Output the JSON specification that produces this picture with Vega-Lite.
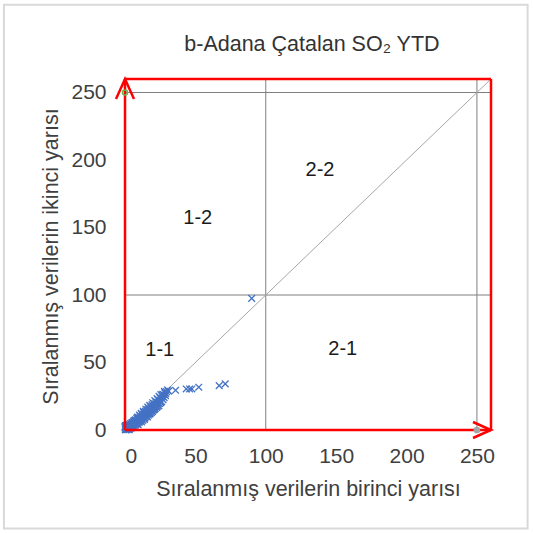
{
  "$schema": "https://vega.github.io/schema/vega-lite/v6.json",
  "width": 366,
  "height": 351,
  "autosize": {"type": "none"},
  "padding": {"left": 125, "top": 79, "right": 42, "bottom": 103},
  "background": "white",
  "config": {
    "view": {"stroke": null},
    "font": "Liberation Sans",
    "axis": {"labelFont": "Liberation Sans", "titleFont": "Liberation Sans"}
  },
  "datasets": {
    "points": [
      {"x": 0.2, "y": 0.5}, {"x": 0.5, "y": 0.1}, {"x": 0.8, "y": 1.3}, {"x": 1.1, "y": 0.6}, {"x": 1.4, "y": 2.1},
      {"x": 1.6, "y": 1.0}, {"x": 1.9, "y": 1.7}, {"x": 2.2, "y": 0.9}, {"x": 2.5, "y": 2.4}, {"x": 2.8, "y": 1.6},
      {"x": 3.0, "y": 3.1}, {"x": 3.3, "y": 2.2}, {"x": 3.6, "y": 2.9}, {"x": 3.9, "y": 1.8}, {"x": 4.1, "y": 3.6},
      {"x": 4.4, "y": 2.7}, {"x": 4.7, "y": 4.2}, {"x": 5.0, "y": 3.3}, {"x": 5.3, "y": 4.6}, {"x": 5.6, "y": 3.8},
      {"x": 5.9, "y": 5.1}, {"x": 6.2, "y": 4.2}, {"x": 6.5, "y": 5.6}, {"x": 6.8, "y": 4.7}, {"x": 7.1, "y": 6.2},
      {"x": 7.4, "y": 5.0}, {"x": 7.7, "y": 6.6}, {"x": 8.0, "y": 5.6}, {"x": 8.3, "y": 7.1}, {"x": 8.6, "y": 6.0},
      {"x": 8.9, "y": 7.6}, {"x": 9.2, "y": 6.5}, {"x": 9.5, "y": 8.2}, {"x": 9.8, "y": 7.0}, {"x": 10.1, "y": 8.7},
      {"x": 10.4, "y": 7.4}, {"x": 10.7, "y": 9.1}, {"x": 11.0, "y": 8.0}, {"x": 11.3, "y": 9.8}, {"x": 11.6, "y": 8.5},
      {"x": 11.9, "y": 10.2}, {"x": 12.2, "y": 8.9}, {"x": 12.5, "y": 10.8}, {"x": 12.8, "y": 9.5}, {"x": 13.1, "y": 11.3},
      {"x": 13.4, "y": 10.0}, {"x": 13.7, "y": 11.9}, {"x": 14.0, "y": 10.6}, {"x": 14.3, "y": 12.5}, {"x": 14.6, "y": 11.2},
      {"x": 14.9, "y": 13.0}, {"x": 15.2, "y": 11.7}, {"x": 15.5, "y": 13.6}, {"x": 15.8, "y": 12.3}, {"x": 16.1, "y": 14.3},
      {"x": 16.4, "y": 12.9}, {"x": 16.7, "y": 14.9}, {"x": 17.0, "y": 13.6}, {"x": 17.4, "y": 15.6}, {"x": 17.8, "y": 14.2},
      {"x": 18.2, "y": 16.3}, {"x": 18.6, "y": 14.9}, {"x": 19.0, "y": 17.0}, {"x": 19.4, "y": 15.7}, {"x": 19.8, "y": 17.6},
      {"x": 20.3, "y": 16.4}, {"x": 20.8, "y": 18.5}, {"x": 21.3, "y": 17.2}, {"x": 21.8, "y": 19.4}, {"x": 22.4, "y": 18.3},
      {"x": 23.0, "y": 20.6}, {"x": 23.6, "y": 19.5}, {"x": 24.3, "y": 22.0}, {"x": 25.0, "y": 21.2}, {"x": 25.8, "y": 23.5},
      {"x": 26.6, "y": 24.8}, {"x": 27.4, "y": 26.3}, {"x": 28.3, "y": 27.5}, {"x": 29.5, "y": 28.4}, {"x": 31.0, "y": 28.8},
      {"x": 0.0, "y": 1.8}, {"x": 0.0, "y": 2.6}, {"x": 0.3, "y": 3.2}, {"x": 1.2, "y": 2.9}, {"x": 2.0, "y": 3.5},
      {"x": 3.1, "y": 4.0}, {"x": 4.0, "y": 4.8}, {"x": 5.2, "y": 5.6}, {"x": 6.1, "y": 6.4}, {"x": 7.3, "y": 7.5},
      {"x": 8.4, "y": 8.6}, {"x": 9.6, "y": 9.3}, {"x": 10.8, "y": 10.4}, {"x": 12.0, "y": 11.7}, {"x": 13.2, "y": 12.8},
      {"x": 14.4, "y": 13.9}, {"x": 15.6, "y": 15.1}, {"x": 16.8, "y": 16.0}, {"x": 18.0, "y": 17.4}, {"x": 19.2, "y": 18.6},
      {"x": 20.5, "y": 19.6}, {"x": 21.9, "y": 20.8}, {"x": 23.3, "y": 22.4}, {"x": 24.9, "y": 23.8}, {"x": 26.2, "y": 25.6},
      {"x": 3.5, "y": 1.2}, {"x": 5.5, "y": 2.5}, {"x": 7.5, "y": 3.9}, {"x": 9.0, "y": 5.1}, {"x": 10.5, "y": 6.3},
      {"x": 12.0, "y": 7.4}, {"x": 13.5, "y": 8.6}, {"x": 15.0, "y": 9.9}, {"x": 16.5, "y": 11.0}, {"x": 18.0, "y": 12.5},
      {"x": 19.5, "y": 13.8}, {"x": 21.0, "y": 15.4}, {"x": 22.5, "y": 16.8}, {"x": 24.0, "y": 18.1},
      {"x": 1.0, "y": 3.5}, {"x": 2.3, "y": 4.1}, {"x": 4.6, "y": 1.5}, {"x": 6.0, "y": 2.9}, {"x": 6.9, "y": 3.5},
      {"x": 8.1, "y": 4.4}, {"x": 9.3, "y": 4.0}, {"x": 10.0, "y": 5.6}, {"x": 11.2, "y": 6.9}, {"x": 11.8, "y": 5.9},
      {"x": 12.7, "y": 7.2}, {"x": 13.8, "y": 7.8}, {"x": 14.2, "y": 9.0}, {"x": 15.4, "y": 10.3}, {"x": 16.0, "y": 9.6},
      {"x": 17.2, "y": 11.8}, {"x": 17.7, "y": 12.0}, {"x": 18.8, "y": 13.1}, {"x": 19.9, "y": 14.6}, {"x": 20.6, "y": 15.0},
      {"x": 21.5, "y": 16.0}, {"x": 22.0, "y": 17.5}, {"x": 23.2, "y": 17.6}, {"x": 24.6, "y": 19.6}, {"x": 25.4, "y": 20.3},
      {"x": 26.0, "y": 21.0}, {"x": 27.0, "y": 22.5}, {"x": 27.8, "y": 24.0}, {"x": 28.8, "y": 25.5}, {"x": 26.8, "y": 26.5},
      {"x": 28.0, "y": 28.6}, {"x": 29.0, "y": 27.0}, {"x": 30.2, "y": 29.8}, {"x": 1.5, "y": 0.2}, {"x": 2.6, "y": 0.5},
      {"x": 3.0, "y": 0.3}, {"x": 0.6, "y": 2.2}, {"x": 4.9, "y": 5.3}, {"x": 6.6, "y": 7.0}, {"x": 8.8, "y": 9.5},
      {"x": 10.2, "y": 11.0}, {"x": 11.5, "y": 12.3}, {"x": 13.0, "y": 13.8}, {"x": 14.8, "y": 15.4}, {"x": 16.2, "y": 17.0},
      {"x": 17.6, "y": 18.2}, {"x": 19.6, "y": 20.2}, {"x": 21.2, "y": 21.8}, {"x": 22.8, "y": 23.2}, {"x": 24.2, "y": 24.9},
      {"x": 25.5, "y": 26.2},
      {"x": 35.9, "y": 29.4}, {"x": 43.5, "y": 30.4}, {"x": 45.9, "y": 30.4}, {"x": 47.5, "y": 30.4}, {"x": 52.4, "y": 31.7},
      {"x": 66.9, "y": 32.9}, {"x": 71.2, "y": 34.2}, {"x": 90.0, "y": 97.5}
    ],
    "grayLines": [
      {"x": 100, "x2": 100, "y": 0, "y2": 260},
      {"x": 250, "x2": 250, "y": 0, "y2": 260},
      {"x": 0, "x2": 260, "y": 100, "y2": 100},
      {"x": 0, "x2": 260, "y": 250, "y2": 250}
    ],
    "diagonal": [{"x": 0, "x2": 260, "y": 0, "y2": 260}],
    "frame": [
      {"x": 0, "x2": 0, "y": 0, "y2": 260},
      {"x": 0, "x2": 260, "y": 0, "y2": 0},
      {"x": 0, "x2": 260, "y": 260, "y2": 260},
      {"x": 260, "x2": 260, "y": 0, "y2": 260}
    ],
    "border": [{"x": -86, "x2": 286, "y": -73, "y2": 315}],
    "upArrow": [{"x": 0, "y": 260}],
    "rightArrow": [{"x": 260, "y": 0}],
    "greenDot": [{"x": 0, "y": 250}],
    "grayDot": [{"x": 250, "y": 0}],
    "labels": [
      {"x": 51.7, "y": 156.8, "label": "1-2"},
      {"x": 138.5, "y": 192.5, "label": "2-2"},
      {"x": 24.7, "y": 59.3, "label": "1-1"},
      {"x": 154.7, "y": 60.3, "label": "2-1"}
    ],
    "titleText": [{"x": 132.8, "y": 284.9, "label": "b-Adana Çatalan SO₂ YTD"}]
  },
  "layer": [
    {
      "data": {"name": "border"},
      "mark": {"type": "rect", "filled": false, "stroke": "#D9D9D9", "strokeWidth": 2, "clip": false},
      "encoding": {
        "x": {"field": "x", "type": "quantitative", "scale": {"domain": [0, 260], "nice": false, "zero": false},
          "axis": {"values": [0, 50, 100, 150, 200, 250], "domain": false, "ticks": false, "grid": false,
            "labelFontSize": 21, "labelColor": "#404040", "labelPadding": 15,
            "title": "Sıralanmış verilerin birinci yarısı", "titleFontSize": 21.5, "titleFontWeight": "normal",
            "titleColor": "#404040", "titleX": 183, "titleY": 59, "titleBaseline": "middle", "titleAlign": "center"}},
        "x2": {"field": "x2"},
        "y": {"field": "y", "type": "quantitative", "scale": {"domain": [0, 260], "nice": false, "zero": false},
          "axis": {"values": [0, 50, 100, 150, 200, 250], "domain": false, "ticks": false, "grid": false,
            "labelFontSize": 21, "labelColor": "#404040", "labelPadding": 19,
            "title": "Sıralanmış verilerin ikinci yarısı", "titleFontSize": 21.5, "titleFontWeight": "normal",
            "titleColor": "#404040", "titleX": -74, "titleY": 177, "titleAngle": -90, "titleBaseline": "middle", "titleAlign": "center"}},
        "y2": {"field": "y2"}
      }
    },
    {
      "data": {"name": "grayLines"},
      "mark": {"type": "rule", "color": "#7F7F7F", "strokeWidth": 1},
      "encoding": {
        "x": {"field": "x", "type": "quantitative"},
        "x2": {"field": "x2"},
        "y": {"field": "y", "type": "quantitative"},
        "y2": {"field": "y2"}
      }
    },
    {
      "data": {"name": "diagonal"},
      "mark": {"type": "rule", "color": "#A6A6A6", "strokeWidth": 1},
      "encoding": {
        "x": {"field": "x", "type": "quantitative"},
        "x2": {"field": "x2"},
        "y": {"field": "y", "type": "quantitative"},
        "y2": {"field": "y2"}
      }
    },
    {
      "data": {"name": "points"},
      "mark": {"type": "point", "shape": "M-1,-1L1,1M-1,1L1,-1", "filled": false, "stroke": "#4472C4", "strokeWidth": 1.3, "size": 45, "opacity": 1},
      "encoding": {
        "x": {"field": "x", "type": "quantitative"},
        "y": {"field": "y", "type": "quantitative"}
      }
    },
    {
      "data": {"name": "frame"},
      "mark": {"type": "rule", "color": "#FF0000", "strokeWidth": 2.5},
      "encoding": {
        "x": {"field": "x", "type": "quantitative"},
        "x2": {"field": "x2"},
        "y": {"field": "y", "type": "quantitative"},
        "y2": {"field": "y2"}
      }
    },
    {
      "data": {"name": "upArrow"},
      "mark": {"type": "point", "shape": "M-1.8,4L0,0L1.8,4", "filled": false, "stroke": "#FF0000", "strokeWidth": 2.5, "size": 100, "opacity": 1},
      "encoding": {
        "x": {"field": "x", "type": "quantitative"},
        "y": {"field": "y", "type": "quantitative"}
      }
    },
    {
      "data": {"name": "rightArrow"},
      "mark": {"type": "point", "shape": "M-3.6,-1.6L0,0L-3.6,1.6", "filled": false, "stroke": "#FF0000", "strokeWidth": 2.5, "size": 100, "opacity": 1},
      "encoding": {
        "x": {"field": "x", "type": "quantitative"},
        "y": {"field": "y", "type": "quantitative"}
      }
    },
    {
      "data": {"name": "greenDot"},
      "mark": {"type": "point", "shape": "circle", "filled": false, "stroke": "#70AD47", "strokeWidth": 1.5, "size": 25, "opacity": 1},
      "encoding": {
        "x": {"field": "x", "type": "quantitative"},
        "y": {"field": "y", "type": "quantitative"}
      }
    },
    {
      "data": {"name": "grayDot"},
      "mark": {"type": "point", "shape": "circle", "filled": true, "color": "#A5A5A5", "size": 45, "opacity": 1},
      "encoding": {
        "x": {"field": "x", "type": "quantitative"},
        "y": {"field": "y", "type": "quantitative"}
      }
    },
    {
      "data": {"name": "labels"},
      "mark": {"type": "text", "fontSize": 20, "color": "#1A1A1A", "font": "Liberation Sans", "align": "center", "baseline": "middle"},
      "encoding": {
        "x": {"field": "x", "type": "quantitative"},
        "y": {"field": "y", "type": "quantitative"},
        "text": {"field": "label"}
      }
    },
    {
      "data": {"name": "titleText"},
      "mark": {"type": "text", "fontSize": 21.5, "color": "#333333", "font": "Liberation Sans", "align": "center", "baseline": "middle", "clip": false},
      "encoding": {
        "x": {"field": "x", "type": "quantitative"},
        "y": {"field": "y", "type": "quantitative"},
        "text": {"field": "label"}
      }
    }
  ]
}
